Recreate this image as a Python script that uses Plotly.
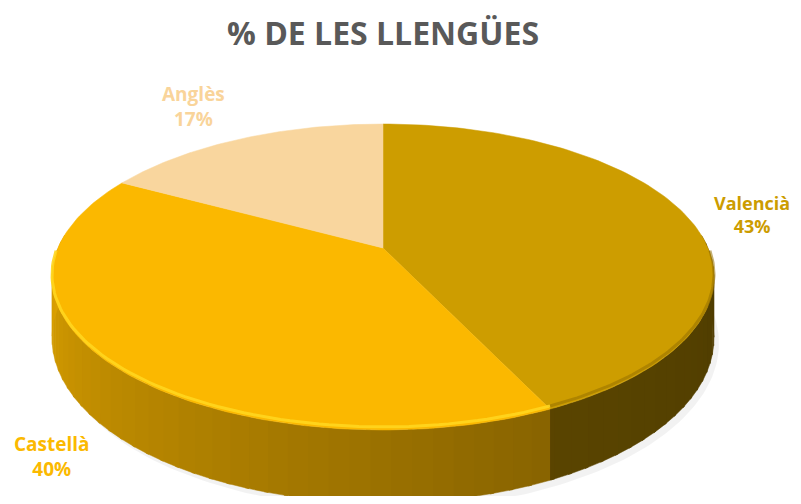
import numpy as np
import plotly.graph_objects as go

# ---- data ----
categories = ["Valencià", "Castellà", "Anglès"]
values = [43, 40, 17]
top_colors = ["#CD9D00", "#FBB800", "#F9D69E"]
label_colors = ["#CC9C00", "#FBB900", "#F9D49A"]
title_text = "% DE LES LLENGÜES"

# ---- projection of a tilted disc (perspective) ----
CX, APEX_Y, C1, K, C3, H = 383.0, 248.0, -100.5, 0.1895, 325.0, 59.0
PAGE_OFF = 8  # default body margin of the html page
W, HT = 801, 504


def proj(theta_deg, h=0.0):
    t = np.radians(theta_deg)
    u, v = np.sin(t), np.cos(t)
    d = 1 + K * v
    return CX + C3 * u / d, (C1 * v + APEX_Y + h) / d


def rgb_scale(hexc, f):
    h = hexc.lstrip("#")
    r, g, b = (int(h[i:i + 2], 16) for i in (0, 2, 4))
    return "rgb(%d,%d,%d)" % (min(255, r * f), min(255, g * f), min(255, b * f))


total = sum(values)
bounds = np.concatenate([[0], np.cumsum(values) / total * 360.0])

fig = go.Figure()

# soft shadow
ang = np.linspace(60, 300, 200)
sx_t, sy_t = proj(ang, H + 5)
sx_t = sx_t + 5
xs0, ys0 = proj(ang, 0)
fig.add_trace(go.Scatter(x=list(xs0) + list(sx_t[::-1]), y=list(ys0) + list(sy_t[::-1]),
                         fill="toself", mode="lines", line=dict(width=0),
                         fillcolor="rgba(0,0,0,0.05)", hoverinfo="skip", showlegend=False))


def shade(theta):
    f = 0.38 + (0.85 - 0.38) * (theta - 100) / 160.0
    return max(0.36, min(0.88, f))


# side walls (front part)
for i, cat in enumerate(categories):
    a0, a1 = max(bounds[i], 85), min(bounds[i + 1], 275)
    if a1 <= a0:
        continue
    edges = np.arange(a0, a1, 3.0)
    edges = np.append(edges, a1)
    for j in range(len(edges) - 1):
        e0, e1 = edges[j], min(edges[j + 1] + 0.6, a1)
        aa = np.linspace(e0, e1, 6)
        tx, ty = proj(aa, 0)
        bx, by = proj(aa, H)
        f = shade((e0 + e1) / 2)
        if i == 0:
            f = 0.39 + 0.05 * ((e0 + e1) / 2 - 100) / 55.0
        col = rgb_scale(top_colors[i], f)
        fig.add_trace(go.Scatter(x=list(tx) + list(bx[::-1]), y=list(ty) + list(by[::-1]),
                                 fill="toself", mode="lines", line=dict(width=0.5, color=col),
                                 fillcolor=col, hoverinfo="skip", showlegend=False))

# top faces
for i, cat in enumerate(categories):
    aa = np.linspace(bounds[i], bounds[i + 1], 120)
    ex, ey = proj(aa, 0)
    px = [CX] + list(ex) + [CX]
    py = [APEX_Y] + list(ey) + [APEX_Y]
    fig.add_trace(go.Scatter(x=px, y=py, fill="toself", mode="lines",
                             line=dict(width=0.5, color=top_colors[i]),
                             fillcolor=top_colors[i], hoverinfo="skip", showlegend=False,
                             name=cat))

# rim highlights on front edge
rim_colors = ["rgba(150,112,0,0.55)", "rgba(255,214,30,0.9)", "rgba(255,235,190,0.6)"]
for i, cat in enumerate(categories):
    a0, a1 = max(bounds[i], 92), min(bounds[i + 1], 268)
    if a1 <= a0:
        continue
    aa = np.linspace(a0, a1, 80)
    ex, ey = proj(aa, -2.5)
    fig.add_trace(go.Scatter(x=ex, y=ey, mode="lines",
                             line=dict(width=3, color=rim_colors[i]),
                             hoverinfo="skip", showlegend=False))

# labels
label_pos = [(752, 214), (52, 456), (193, 106)]
label_sizes = [18, 19, 19]
annotations = []
for i, cat in enumerate(categories):
    pct = round(values[i] / total * 100)
    annotations.append(dict(x=label_pos[i][0], y=label_pos[i][1], xref="x", yref="y",
                            text="<b>%s</b><br><b>%d%%</b>" % (cat, pct), showarrow=False,
                            align="center", font=dict(family="Open Sans", size=label_sizes[i],
                                                      color=label_colors[i])))
annotations.append(dict(x=383, y=32, xref="x", yref="y", text="<b>%s</b>" % title_text,
                        showarrow=False, font=dict(family="Open Sans", size=32, color="#595959")))

fig.update_layout(
    width=W - PAGE_OFF, height=HT - 2 * PAGE_OFF, autosize=False,
    margin=dict(l=0, r=0, t=0, b=0),
    paper_bgcolor="white", plot_bgcolor="white",
    xaxis=dict(range=[PAGE_OFF, W], visible=False, fixedrange=True),
    yaxis=dict(range=[HT - PAGE_OFF, PAGE_OFF], visible=False, fixedrange=True),
    annotations=annotations,
    showlegend=False,
)

fig.write_html("out.html")
